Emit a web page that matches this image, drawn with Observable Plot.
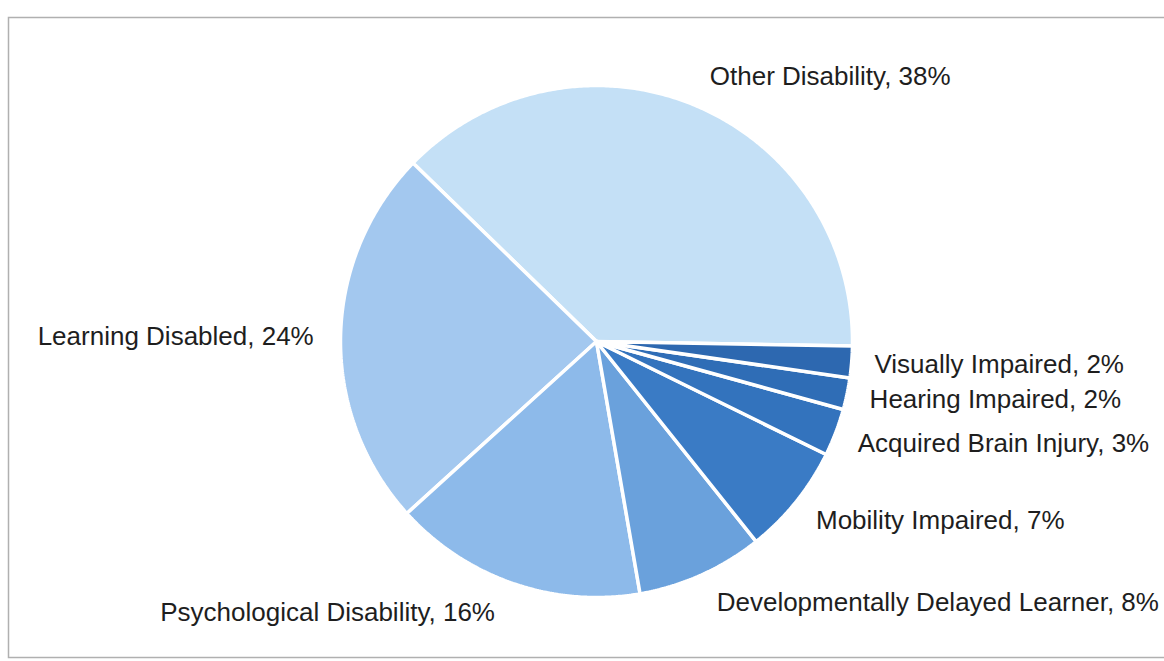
<!DOCTYPE html>
<html>
<head>
<meta charset="utf-8">
<script src="https://cdn.jsdelivr.net/npm/d3@7"></script>
<script src="https://cdn.jsdelivr.net/npm/@observablehq/plot@0.6"></script>
<style>
  html, body { margin: 0; padding: 0; background: #fff; overflow: hidden; }
  #chart svg { display: block; }
</style>
</head>
<body>
<div id="chart"></div>
<script>
// ---- data ----
const categories = [
  "Other Disability",
  "Learning Disabled",
  "Psychological Disability",
  "Developmentally Delayed Learner",
  "Mobility Impaired",
  "Acquired Brain Injury",
  "Hearing Impaired",
  "Visually Impaired"
];
const percents = [38, 24, 16, 8, 7, 3, 2, 2];
const sliceColors = ["#c4e0f6", "#a3c8ef", "#8dbaea", "#6aa1dc", "#3a7bc5", "#3373bd", "#2f6db6", "#2d68b0"];

// ---- layout ----
const W = 1164, H = 661;
const cx = 596, cy = 341, R = 256;
const startDeg = -1; // slices run counter-clockwise from just below 3 o'clock

const total = d3.sum(percents);
const ends = d3.cumsum(percents);
const slices = categories.map((name, i) => {
  const a0 = startDeg + (ends[i] - percents[i]) / total * 360;
  const a1 = startDeg + ends[i] / total * 360;
  return {name, pct: percents[i], a0, a1, mid: (a0 + a1) / 2};
});

// polygon points for each slice (centre + arc)
const pts = [];
for (const s of slices) {
  pts.push({name: s.name, x: 0, y: 0});
  const n = Math.max(4, Math.ceil((s.a1 - s.a0) / 0.5));
  for (let k = 0; k <= n; k++) {
    const a = (s.a0 + (s.a1 - s.a0) * k / n) * Math.PI / 180;
    pts.push({name: s.name, x: Math.cos(a), y: Math.sin(a)});
  }
}

const labels = slices.map(s => {
  const m = s.mid * Math.PI / 180;
  return {
    label: `${s.name}, ${s.pct}%`,
    x: 1.05 * Math.cos(m),
    y: 1.12 * Math.sin(m),
    right: Math.cos(m) >= 0
  };
});

const font = "'Liberation Sans', Arial, sans-serif";

const chart = Plot.plot({
  width: W,
  height: H,
  marginLeft: 8,
  marginTop: 17,
  marginRight: 0,
  marginBottom: 4,
  style: {fontFamily: font, background: "#fff"},
  x: {domain: [-1, 1], range: [cx - R, cx + R], axis: null},
  y: {domain: [-1, 1], range: [cy + R, cy - R], axis: null},
  color: {type: "ordinal", domain: categories, range: sliceColors},
  marks: [
    Plot.frame({stroke: "#b0b0b0", strokeWidth: 1.5, insetRight: -30}),
    Plot.line(pts, {
      x: "x", y: "y", z: "name", fill: "name",
      stroke: "white", strokeWidth: 3.5, strokeLinejoin: "miter",
      curve: "linear-closed"
    }),
    Plot.text(labels.filter(d => d.right), {
      x: "x", y: "y", text: "label", textAnchor: "start", dx: 10,
      fontSize: 26, fill: "#1e1e1e"
    }),
    Plot.text(labels.filter(d => !d.right), {
      x: "x", y: "y", text: "label", textAnchor: "end", dx: -14,
      fontSize: 26, fill: "#1e1e1e"
    })
  ]
});

document.getElementById("chart").appendChild(chart);
</script>
</body>
</html>
